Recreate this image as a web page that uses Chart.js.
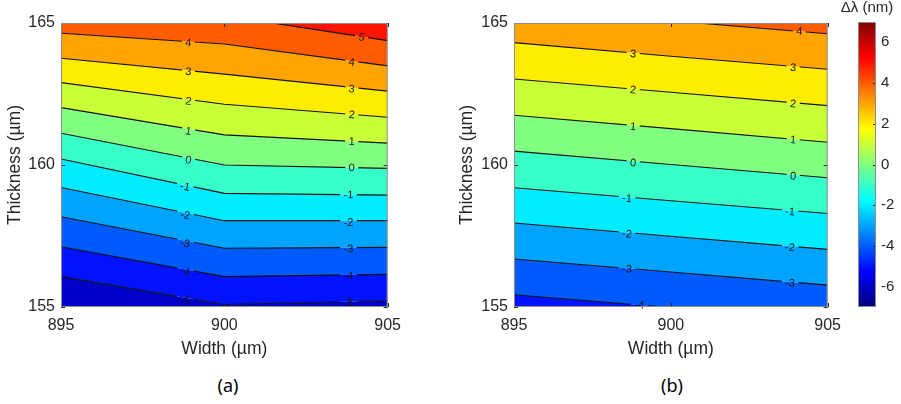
<!DOCTYPE html>
<html>
<head>
<meta charset="utf-8">
<script src="https://cdn.jsdelivr.net/npm/chart.js@4.4.0/dist/chart.umd.min.js"></script>
<style>
body{margin:0;background:#fff;}
#wrap{position:relative;width:901px;height:404px;overflow:hidden;}
#wrap canvas{position:absolute;top:0;}
.cap{position:absolute;top:373px;width:60px;line-height:24px;text-align:center;font:18px "Noto Sans",sans-serif;color:#000;}
</style>
</head>
<body>
<div id="wrap">
  <canvas id="chartA" width="410" height="370" style="left:0px"></canvas>
  <canvas id="chartB" width="400" height="370" style="left:450px"></canvas>
  <canvas id="chartC" width="71" height="370" style="left:830px"></canvas>
  <div class="cap" style="left:198px">(a)</div>
  <div class="cap" style="left:642px">(b)</div>
</div>
<script>
// grid of widths where each contour line is read
var widths = [895, 900, 905]
var ticksWidth = [895, 900, 905]
var ticksThickness = [155, 160, 165]
var ticksColor = [-6, -4, -2, 0, 2, 4, 6]
var colorMin = -7
var colorMax = 7

// (a) contour levels and thickness of each level at 895, 900, 905
var levelsA = [-5, -4, -3, -2, -1, 0, 1, 2, 3, 4, 5]
var thicknessA = [
  [156.07, 155.09, 155.22],
  [157.12, 156.07, 156.15],
  [158.18, 157.07, 157.10],
  [159.21, 158.04, 158.04],
  [160.21, 159.00, 158.94],
  [161.12, 160.00, 159.88],
  [162.02, 161.06, 160.77],
  [162.90, 162.14, 161.68],
  [163.76, 163.20, 162.60],
  [164.64, 164.26, 163.49],
  [165.61, 165.26, 164.38]
]
var labelLevelA = [4, 3, 2, 1, 0, -1, -2, -3, -4, -5,
                   5, 4, 3, 2, 1, 0, -1, -2, -3, -4, -5]
var labelWidthA = [898.9, 898.9, 898.9, 898.9, 898.9, 898.8, 898.8, 898.8, 898.8, 898.8,
                   904.2, 903.9, 903.9, 903.9, 903.9, 903.9, 903.8, 903.8, 903.8, 903.8, 903.8]
var labelThickA = [164.31, 163.29, 162.25, 161.20, 160.18, 159.24, 158.24, 157.24, 156.25, 155.27,
                   164.50, 163.62, 162.68, 161.77, 160.83, 159.91, 158.95, 157.99, 157.05, 156.10, 155.16]

// (b)
var levelsB = [-4, -3, -2, -1, 0, 1, 2, 3, 4]
var thicknessB = [
  [155.43, 154.98, 154.52],
  [156.69, 156.23, 155.77],
  [157.96, 157.49, 157.03],
  [159.20, 158.74, 158.29],
  [160.49, 160.02, 159.55],
  [161.75, 161.28, 160.80],
  [163.03, 162.56, 162.09],
  [164.31, 163.83, 163.37],
  [165.54, 165.08, 164.62]
]
var labelLevelB = [3, 2, 1, 0, -1, -2, -3, -4,
                   4, 3, 2, 1, 0, -1, -2, -3]
var labelWidthB = [898.8, 898.8, 898.8, 898.8, 898.6, 898.6, 898.6, 899.0,
                   904.1, 903.9, 903.9, 903.9, 903.9, 903.8, 903.8, 903.8]
var labelThickB = [163.92, 162.65, 161.36, 160.08, 158.83, 157.58, 156.34, 155.08,
                   164.71, 163.43, 162.16, 160.89, 159.61, 158.36, 157.10, 155.85]

Chart.defaults.font.family = "'Liberation Sans', Arial, sans-serif"
Chart.defaults.color = '#262626'

function clamp(v){ return Math.max(0, Math.min(1, v)) }
function jet(t){
  var r = clamp(1.5 - Math.abs(4*t - 3))
  var g = clamp(1.5 - Math.abs(4*t - 2))
  var b = clamp(1.5 - Math.abs(4*t - 1))
  return 'rgb(' + Math.round(r*255) + ',' + Math.round(g*255) + ',' + Math.round(b*255) + ')'
}
function bandColor(level){ return jet((level - colorMin) / (colorMax - colorMin)) }

function buildDatasets(levels, thick){
  var ds = []
  var pts = function(i){ return widths.map(function(w, j){ return {x: w, y: thick[i][j]} }) }
  for(var i = 0; i < levels.length; i++){
    ds.push({
      data: pts(i),
      fill: i == 0 ? 'start' : '-1',
      backgroundColor: bandColor(i == 0 ? levels[i] - 1 : levels[i-1]),
      borderWidth: 0, pointRadius: 0, order: 2
    })
  }
  var top = levels.length - 1
  ds.push({ data: pts(top), fill: 'end', backgroundColor: bandColor(levels[top]),
    borderWidth: 0, pointRadius: 0, order: 2 })
  for(var k = 0; k < levels.length; k++){
    ds.push({ data: pts(k), fill: false, borderColor: '#111', borderWidth: 1.1,
      pointRadius: 0, order: 1, isContour: true })
  }
  return ds
}

// label boxes, tilted along the contour segment they sit on
function labelBoxes(chart, opts){
  var ctx = chart.ctx
  var xs = chart.scales.x, ys = chart.scales.y
  ctx.save()
  ctx.font = '11px "Liberation Sans", Arial, sans-serif'
  var out = opts.levels.map(function(lv, i){
    var w = ctx.measureText(String(lv)).width + 7
    var h = 11
    var px = xs.getPixelForValue(opts.widths[i])
    var py = ys.getPixelForValue(opts.thick[i])
    var li = opts.lineLevels.indexOf(lv)
    var row = opts.lines[li]
    var j = opts.widths[i] < widths[1] ? 0 : 1
    var dx = xs.getPixelForValue(widths[j+1]) - xs.getPixelForValue(widths[j])
    var dy = ys.getPixelForValue(row[j+1]) - ys.getPixelForValue(row[j])
    return {w: w, h: h, px: px, py: py, ang: Math.atan2(dy, dx), text: String(lv)}
  })
  ctx.restore()
  return out
}

var contourPlugin = {
  id: 'contour',
  beforeDatasetDraw: function(chart, args, opts){
    if(!chart.data.datasets[args.index].isContour) return
    var ctx = chart.ctx
    ctx.save()
    ctx.beginPath()
    ctx.rect(0, 0, chart.width, chart.height)
    labelBoxes(chart, opts).forEach(function(b){
      ctx.save()
      ctx.translate(b.px, b.py)
      ctx.rotate(b.ang)
      ctx.rect(-b.w/2, -b.h/2, b.w, b.h)
      ctx.restore()
    })
    ctx.clip('evenodd')
  },
  afterDatasetDraw: function(chart, args){
    if(chart.data.datasets[args.index].isContour) chart.ctx.restore()
  },
  afterDatasetsDraw: function(chart, args, opts){
    var ctx = chart.ctx
    var a = chart.chartArea
    ctx.save()
    ctx.font = '11px "Liberation Sans", Arial, sans-serif'
    ctx.fillStyle = '#1a1a1a'
    ctx.textAlign = 'center'
    ctx.textBaseline = 'middle'
    labelBoxes(chart, opts).forEach(function(b){
      ctx.save()
      ctx.translate(b.px, b.py)
      ctx.rotate(b.ang)
      ctx.fillText(b.text, 0, 0.5)
      ctx.restore()
    })
    // box and inward ticks
    ctx.strokeStyle = '#262626'
    ctx.lineWidth = 1
    ctx.beginPath()
    chart.scales.x.ticks.forEach(function(t){
      var p = Math.round(chart.scales.x.getPixelForValue(t.value)) + 0.5
      ctx.moveTo(p, a.bottom); ctx.lineTo(p, a.bottom - 4)
      ctx.moveTo(p, a.top); ctx.lineTo(p, a.top + 4)
    })
    chart.scales.y.ticks.forEach(function(t){
      var p = Math.round(chart.scales.y.getPixelForValue(t.value)) + 0.5
      ctx.moveTo(a.left, p); ctx.lineTo(a.left + 4, p)
      ctx.moveTo(a.right, p); ctx.lineTo(a.right - 4, p)
    })
    ctx.stroke()
    ctx.strokeStyle = '#8c8c8c'
    ctx.strokeRect(a.left + 0.5, a.top + 0.5, a.right - a.left - 1, a.bottom - a.top - 1)
    ctx.restore()
  }
}

function contourOptions(yWidth, padRight, yTitlePad, labels){
  return {
    responsive: false,
    animation: false,
    layout: { padding: { left: 0, top: 23, right: padRight, bottom: 0 } },
    plugins: { legend: { display: false }, tooltip: { enabled: false }, contour: labels },
    scales: {
      x: {
        type: 'linear', min: 895, max: 905,
        afterBuildTicks: function(s){ s.ticks = ticksWidth.map(function(v){ return {value: v} }) },
        afterFit: function(s){ s.height = 63 },
        grid: { display: false, drawTicks: false },
        border: { display: false },
        ticks: { padding: 9, maxRotation: 0, autoSkip: false, font: { size: 16 } },
        title: { display: true, text: 'Width (µm)', font: { size: 17.5 }, padding: { top: 0, bottom: 10 } }
      },
      y: {
        type: 'linear', min: 155, max: 165,
        afterBuildTicks: function(s){ s.ticks = ticksThickness.map(function(v){ return {value: v} }) },
        afterFit: function(s){ s.width = yWidth },
        grid: { display: false, drawTicks: false },
        border: { display: false },
        ticks: { padding: 6, autoSkip: false, font: { size: 16 } },
        title: { display: true, text: 'Thickness (µm)', font: { size: 17.5 }, padding: { top: yTitlePad, bottom: 0 } }
      }
    }
  }
}

const chartA = new Chart(document.getElementById('chartA'), {
  type: 'line',
  data: { datasets: buildDatasets(levelsA, thicknessA) },
  options: contourOptions(61, 14, 5, { levels: labelLevelA, widths: labelWidthA, thick: labelThickA,
    lineLevels: levelsA, lines: thicknessA }),
  plugins: [contourPlugin]
})

const chartB = new Chart(document.getElementById('chartB'), {
  type: 'line',
  data: { datasets: buildDatasets(levelsB, thicknessB) },
  options: contourOptions(64, 16, 7, { levels: labelLevelB, widths: labelWidthB, thick: labelThickB,
    lineLevels: levelsB, lines: thicknessB }),
  plugins: [contourPlugin]
})

var colorbarPlugin = {
  id: 'colorbar',
  afterDraw: function(chart){
    var ctx = chart.ctx
    var a = chart.chartArea
    var ys = chart.scales.y
    ctx.save()
    ctx.strokeStyle = '#262626'
    ctx.lineWidth = 1
    ctx.beginPath()
    ys.ticks.forEach(function(t){
      var p = Math.round(ys.getPixelForValue(t.value)) + 0.5
      ctx.moveTo(a.right, p); ctx.lineTo(a.right - 3, p)
    })
    ctx.stroke()
    ctx.strokeStyle = '#8c8c8c'
    ctx.strokeRect(a.left + 0.5, a.top + 0.5, a.right - a.left - 1, a.bottom - a.top - 1)
    ctx.fillStyle = '#262626'
    ctx.font = '15px "Liberation Sans", Arial, sans-serif'
    ctx.textAlign = 'center'
    ctx.textBaseline = 'middle'
    ctx.fillText('Δλ (nm)', (a.left + a.right) / 2, a.top - 14)
    ctx.restore()
  }
}

const chartC = new Chart(document.getElementById('chartC'), {
  type: 'bar',
  data: {
    labels: [''],
    datasets: [{
      data: [[colorMin, colorMax]],
      backgroundColor: function(c){
        var a = c.chart.chartArea
        if(!a) return null
        var g = c.chart.ctx.createLinearGradient(0, a.bottom, 0, a.top)
        g.addColorStop(0, 'rgb(0,0,128)')
        g.addColorStop(0.125, 'rgb(0,0,255)')
        g.addColorStop(0.375, 'rgb(0,255,255)')
        g.addColorStop(0.625, 'rgb(255,255,0)')
        g.addColorStop(0.875, 'rgb(255,0,0)')
        g.addColorStop(1, 'rgb(128,0,0)')
        return g
      },
      borderWidth: 0,
      barPercentage: 1,
      categoryPercentage: 1
    }]
  },
  options: {
    responsive: false,
    animation: false,
    layout: { padding: { left: 28, top: 22, right: 0, bottom: 63 } },
    plugins: { legend: { display: false }, tooltip: { enabled: false } },
    scales: {
      x: { display: false },
      y: {
        position: 'right', min: colorMin, max: colorMax,
        afterBuildTicks: function(s){ s.ticks = ticksColor.map(function(v){ return {value: v} }) },
        afterFit: function(s){ s.width = 25 },
        grid: { display: false, drawTicks: false },
        border: { display: false },
        ticks: { padding: 5, autoSkip: false, font: { size: 15 } }
      }
    }
  },
  plugins: [colorbarPlugin]
})
</script>
</body>
</html>
